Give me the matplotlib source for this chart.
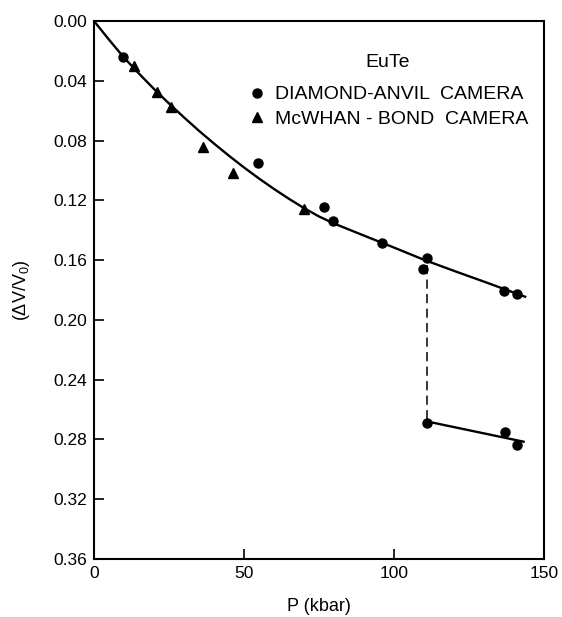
import numpy as np
import matplotlib
matplotlib.use('Agg')
import matplotlib.pyplot as plt

plt.rcParams['font.family'] = ['Liberation Sans', 'DejaVu Sans']
plt.rcParams['mathtext.fontset'] = 'custom'
plt.rcParams['mathtext.rm'] = 'Liberation Sans'

# diamond-anvil camera points (P in kbar, dV/V0)
dac_p = [9.7, 54.8, 76.7, 79.7, 95.9, 110.9, 109.6, 136.7, 141.1, 111.1, 137.0, 140.9]
dac_v = [0.024, 0.0952, 0.1247, 0.1338, 0.1488, 0.1588, 0.1662, 0.1805, 0.1827, 0.2692, 0.2752, 0.2837]

# McWhan-Bond camera points
mwb_p = [13.3, 21.1, 25.8, 36.4, 46.4, 70.0]
mwb_v = [0.0301, 0.0473, 0.0578, 0.0841, 0.1015, 0.126]

# fitted curve, low pressure phase
fit_p = [0, 5, 10, 15, 20, 25, 30, 35, 40, 45, 50, 55, 60, 65, 70, 75, 80, 90,
         100, 110, 120, 130, 143.7]
fit_v = [0, 0.0125, 0.0245, 0.0352, 0.0455, 0.0552, 0.0645, 0.0735, 0.082, 0.0902,
         0.098, 0.1054, 0.1124, 0.119, 0.1252, 0.1308, 0.1355, 0.1436,
         0.1516, 0.1598, 0.1672, 0.1744, 0.1845]

# high pressure phase line and transition
hp_p = [111.1, 143.2]
hp_v = [0.268, 0.2815]
trans_p = [111.1, 111.1]
trans_v = [0.163, 0.268]

fig = plt.figure(figsize=(5.62, 6.17), dpi=100)
ax = fig.add_axes([94/562, 1-559/617, 450/562, 538/617])

ax.plot(fit_p, fit_v, color='black', lw=1.7)
ax.plot(hp_p, hp_v, color='black', lw=1.7)
ax.plot(trans_p, trans_v, color='black', lw=1.1, dashes=(6, 3.5))
ax.plot(dac_p, dac_v, 'o', color='black', ms=6.5, label='DIAMOND-ANVIL  CAMERA')
ax.plot(mwb_p, mwb_v, '^', color='black', ms=7, label='McWHAN - BOND  CAMERA')

ax.set_xlim(0, 150)
ax.set_ylim(0.36, 0.0)
ax.set_xticks([0, 50, 100, 150])
ax.set_yticks(np.arange(0, 0.361, 0.04))
ax.set_yticklabels(['%.2f' % t for t in np.arange(0, 0.361, 0.04)])
ax.tick_params(direction='in', length=7, width=1.2, labelsize=12.5, pad=5,
               top=False, right=False)
for s in ax.spines.values():
    s.set_linewidth(1.5)

ax.set_xlabel('P (kbar)', fontsize=13, labelpad=12)
ax.set_ylabel(r'($\Delta$V/V$_0$)', fontsize=13, labelpad=15)

ax.text(0.653, 0.922, 'EuTe', transform=ax.transAxes, fontsize=14,
        ha='center', va='center')
ax.legend(loc='upper right', bbox_to_anchor=(0.982, 0.894),
          frameon=False, fontsize=14, handlelength=1.0,
          handletextpad=0.4, borderaxespad=0, labelspacing=0.35)

fig.savefig('out.png', dpi=100)
